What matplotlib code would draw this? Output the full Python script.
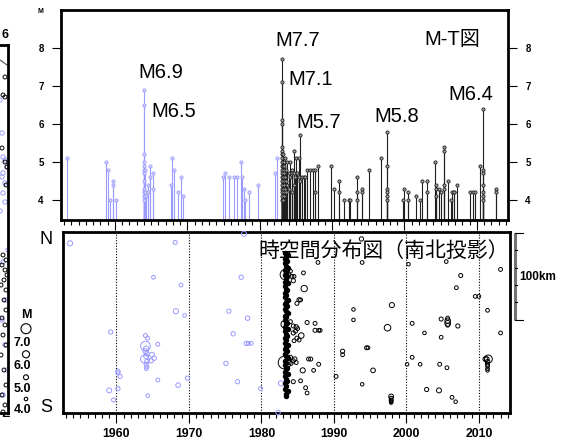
import matplotlib
matplotlib.use("Agg")
import matplotlib.pyplot as plt
import matplotlib.transforms as mtransforms
from matplotlib.ticker import MultipleLocator
import numpy as np

plt.rcParams['font.family'] = ['Liberation Sans', 'Noto Sans CJK JP']
plt.rcParams['font.weight'] = 'bold'

BLUE = '#9a9aff'

# M-T diagram: events before the 1983 main shock (blue) and after (black)
old_year = [1953.4, 1958.7, 1959.0, 1959.3, 1959.8, 1959.8, 1960.2,
            1964.0, 1964.0, 1964.0, 1964.0, 1964.0, 1964.0, 1964.0, 1964.0,
            1964.0, 1964.0, 1964.0, 1964.0, 1964.2, 1964.2, 1964.3, 1964.5,
            1964.6, 1964.9, 1964.9, 1965.3, 1965.3, 1967.7, 1967.9, 1968.2,
            1968.7, 1969.1, 1969.4, 1974.9, 1975.2, 1975.8, 1976.4, 1976.9,
            1977.4, 1977.6, 1977.8, 1978.0, 1978.5, 1979.7, 1982.1, 1982.4]
old_mag = [5.1, 5.0, 4.8, 4.0, 4.5, 4.4, 4.0,
           6.9, 6.5, 5.2, 5.0, 4.9, 4.8, 4.7, 4.5,
           4.3, 4.2, 4.1, 4.0, 4.8, 4.2, 4.1, 4.4,
           4.2, 4.9, 4.6, 4.7, 4.3, 4.4, 5.1, 4.8,
           4.2, 4.6, 4.1, 4.6, 4.7, 4.6, 4.6, 4.6,
           5.0, 4.6, 4.3, 4.0, 4.2, 4.4, 4.7, 5.1]

new_year = [1983.1] * 19 + [
    1983.2, 1983.2, 1983.2, 1983.2, 1983.2, 1983.3, 1983.3, 1983.3, 1983.3,
    1983.4, 1983.4, 1983.4, 1983.4, 1983.5, 1983.5, 1983.5, 1983.6, 1983.6,
    1983.6, 1983.8, 1983.8, 1984.0, 1984.0, 1984.2, 1984.2, 1984.4, 1984.4,
    1984.5, 1984.7, 1984.7, 1984.7, 1984.9, 1985.0, 1985.2, 1985.4, 1985.4,
    1985.6, 1985.6, 1985.9, 1986.1, 1986.3, 1986.5, 1986.9, 1987.3, 1987.6,
    1987.6, 1988.0, 1989.9, 1990.2, 1991.0, 1991.0, 1991.6, 1992.3, 1992.5,
    1993.5, 1993.5, 1993.5, 1994.1, 1994.1, 1995.1, 1996.8, 1997.6, 1997.6,
    1997.6, 1997.6, 1997.6, 1997.6, 1999.8, 2000.0, 2000.5, 2000.5, 2001.6,
    2002.2, 2002.4, 2003.1, 2003.1, 2004.2, 2004.4, 2004.4, 2004.4, 2004.7,
    2005.1, 2005.5, 2005.5, 2005.5, 2005.5, 2006.0, 2006.4, 2006.6, 2006.8,
    2006.9, 2007.2, 2009.1, 2009.4, 2009.7, 2010.4, 2010.9, 2010.9, 2010.9,
    2010.9, 2010.9, 2010.9, 2010.9, 2012.7, 2012.7]
new_mag = [7.7, 7.1, 6.1, 6.0, 5.4, 5.3, 5.2, 5.1, 5.0, 4.9, 4.8, 4.7, 4.6,
           4.5, 4.4, 4.3, 4.2, 4.1, 4.0] + [
    5.2, 4.9, 4.6, 4.3, 4.0, 5.0, 4.8, 4.5, 4.2,
    4.9, 4.7, 4.4, 4.1, 5.1, 4.6, 4.3, 4.8, 4.5,
    4.2, 5.0, 4.4, 4.7, 4.3, 5.0, 4.6, 4.7, 4.2,
    4.8, 5.3, 4.7, 4.4, 4.6, 5.1, 4.7, 5.1, 4.6,
    5.7, 4.5, 4.6, 4.6, 4.6, 4.8, 4.8, 4.8, 4.8,
    4.2, 4.9, 4.9, 4.3, 4.5, 4.2, 4.0, 4.0, 4.0,
    4.6, 4.2, 4.0, 4.3, 4.2, 4.8, 5.1, 5.8, 4.9,
    4.3, 4.2, 4.1, 4.0, 4.0, 4.3, 4.2, 4.0, 4.1,
    4.0, 4.5, 4.5, 4.2, 5.0, 4.4, 4.3, 4.1, 4.3,
    4.2, 5.4, 5.3, 4.4, 4.3, 4.5, 4.0, 4.2, 4.2,
    4.2, 4.4, 4.2, 4.2, 4.2, 4.9, 6.4, 4.8, 4.7,
    4.4, 4.2, 4.1, 4.0, 4.3, 4.2]

peak_text = ["M6.9", "M6.5", "M7.7", "M7.1", "M5.7", "M5.8", "M6.4"]
peak_year = [1963.2, 1965.0, 1982.2, 1983.9, 1985.1, 1995.9, 2006.0]
peak_mag = [7.21, 6.18, 8.05, 7.03, 5.89, 6.05, 6.63]

# space-time diagram (N-S projection), distance in km from the south edge
old_t = [1953.6, 1959.2, 1959.0, 1959.6, 1960.2, 1960.2, 1960.5, 1960.2,
         1964.0, 1964.3, 1964.0, 1964.1, 1964.0, 1964.2, 1964.1, 1963.9,
         1964.2, 1964.1, 1964.2, 1964.1, 1964.9, 1965.2, 1964.8, 1965.7,
         1965.1, 1965.7, 1964.3, 1968.1, 1968.9, 1968.2, 1969.4, 1968.5,
         1969.8, 1977.6, 1977.2, 1975.5, 1978.1, 1976.1, 1977.9, 1978.2,
         1978.6, 1975.1, 1976.7, 1979.9, 1982.7, 1982.3]
old_km = [195, 93, 26, 15, 48, 46, 42, 28,
          89, 86, 77, 74, 71, 68, 65, 62,
          59, 56, 53, 51, 67, 63, 60, 79,
          156, 38, 20, 196, 147, 117, 112, 32,
          40, 206, 156, 117, 109, 91, 80, 80,
          80, 57, 36, 28, 34, 0.5]
old_m = [5.1, 4.5, 5.0, 4.4, 4.6, 4.5, 4.4, 4.5,
         4.4, 4.3, 6.9, 5.2, 5.0, 4.8, 4.9, 6.5,
         4.7, 4.5, 4.3, 4.2, 4.9, 4.7, 4.6, 4.3,
         4.2, 4.3, 4.1, 4.4, 4.2, 5.1, 4.1, 4.8,
         4.6, 5.0, 4.6, 4.6, 4.7, 4.6, 4.6, 4.3,
         4.2, 4.6, 4.6, 4.4, 5.1, 4.7]

new_t = [1983.2, 1983.3, 1983.2, 1984.0, 1984.2, 1984.5, 1984.4, 1985.8,
         1985.9, 1984.9, 1985.2, 1985.4, 1984.0, 1984.4, 1984.8, 1985.0,
         1984.7, 1984.4, 1985.5, 1984.9, 1984.5, 1985.2, 1986.3, 1987.4,
         1987.4, 1987.9, 1988.1, 1984.0, 1984.4, 1984.8, 1984.6, 1984.1,
         1986.5, 1986.8, 1985.7, 1987.9, 1987.2, 1984.4, 1985.4, 1986.1,
         1986.3, 1987.8, 1990.3, 1991.2, 1991.2, 1992.7, 1992.7, 1993.8,
         1993.9, 1993.9, 1994.5, 1994.7, 1995.4, 1997.4, 1998.0, 1997.9,
         1997.9, 1997.9, 1997.9, 1997.9, 1997.9, 2000.3, 2000.8, 2000.8,
         2000.1, 2001.9, 2002.5, 2002.8, 2004.5, 2004.6, 2004.8, 2004.8,
         2005.5, 2005.7, 2005.7, 2005.7, 2005.7, 2005.6, 2007.1, 2006.9,
         2007.5, 2006.3, 2006.8, 2009.5, 2010.0, 2011.2, 2013.0, 2013.0,
         2011.3, 2010.9, 2011.1, 2011.2, 2011.2, 2011.2, 2011.2, 2011.2]
new_km = [58, 159, 102, 163, 157, 157, 152, 161,
          143, 126, 130, 130, 105, 100, 99, 97,
          94, 92, 89, 86, 83, 84, 104, 103,
          95, 95, 95, 64, 60, 58, 62, 57,
          62, 62, 49, 56, 49, 36, 37, 29,
          23, 173, 42, 71, 67, 119, 107, 200,
          173, 33, 75, 75, 49, 98, 124, 19,
          17, 15, 14, 13, 12, 171, 103, 64,
          56, 56, 92, 27, 26, 56, 87, 108,
          174, 109, 106, 103, 101, 52, 100, 144,
          158, 18, 13, 134, 134, 118, 165, 92,
          62, 62, 62, 59, 56, 54, 51, 49]
new_m = [7.7, 7.1, 6.1, 4.3, 4.4, 4.2, 4.5, 4.2,
         5.7, 4.4, 4.6, 4.3, 4.3, 4.4, 4.6, 4.2,
         4.3, 4.5, 5.3, 4.4, 4.2, 4.3, 4.4, 4.3,
         4.4, 4.2, 4.3, 4.5, 4.4, 4.3, 4.6, 4.2,
         4.3, 4.4, 5.1, 4.3, 4.2, 4.4, 4.2, 4.3,
         4.2, 4.2, 4.3, 4.5, 4.2, 4.0, 4.0, 4.6,
         4.2, 4.0, 4.3, 4.2, 4.8, 5.8, 5.1, 4.9,
         4.3, 4.2, 4.1, 4.0, 4.0, 4.0, 4.3, 4.2,
         4.0, 4.1, 4.0, 4.5, 5.0, 4.3, 4.2, 4.4,
         4.1, 4.3, 5.3, 5.4, 4.4, 4.2, 4.5, 4.2,
         4.4, 4.2, 4.0, 4.2, 4.2, 4.2, 4.3, 4.2,
         6.4, 4.9, 4.8, 4.7, 4.4, 4.2, 4.1, 4.0]

# 1983 aftershock column (all about M4)
col_t = [1983.25, 1983.6, 1983.4, 1983.3, 1983.55, 1983.25, 1983.45, 1983.6,
         1983.3, 1983.4, 1983.25, 1983.55, 1983.45, 1983.3, 1983.6, 1983.25,
         1983.4, 1983.55, 1983.3, 1983.45, 1983.25, 1983.6, 1983.4, 1983.3,
         1983.55, 1983.25, 1983.45, 1983.6, 1983.3, 1983.4, 1983.25, 1983.55,
         1983.45, 1983.3, 1983.6, 1983.25, 1983.4, 1983.55, 1983.3, 1983.45,
         1983.25, 1983.6, 1983.4, 1983.3, 1983.55, 1983.25, 1983.45, 1983.6,
         1983.3, 1983.4, 1983.25, 1983.55, 1983.45, 1983.3, 1983.6, 1983.25,
         1983.4, 1983.55, 1983.3, 1983.45, 1983.25, 1983.6, 1983.4, 1983.4]
col_km = [184, 182, 179, 177, 175, 172, 169, 167, 164, 161, 159, 157, 154,
          151, 149, 146, 143, 141, 138, 136, 133, 130, 128, 125, 123, 120,
          117, 115, 112, 110, 107, 104, 102, 99, 97, 94, 91, 89, 86, 84,
          81, 78, 76, 73, 71, 68, 65, 63, 60, 58, 55, 52, 50, 47, 45, 42,
          39, 37, 34, 31, 28, 25, 22, 19]

legend_mag = [7.0, 6.0, 5.0, 4.0]
legend_text = ["7.0", "6.0", "5.0", "4.0"]

# neighbouring map panel, cut off at the left edge
strip_blue_x = [92, 94, 95, 97, 99, 95, 94, 97, 95, 92, 97, 100, 95, 98, 94, 97, 99, 95]
strip_blue_y = [313, 280, 256, 253, 246, 240, 236, 230, 220, 202, 211, 163, 151, 113, 93, 68, 43, 18]
strip_black_x = [97, 95, 97, 94, 97, 99, 98, 95, 98, 94, 97, 99, 96, 93, 98, 96, 98, 94, 97, 95, 98, 93, 96, 98, 94, 97, 95]
strip_black_y = [336, 318, 316, 265, 251, 246, 228, 158, 153, 148, 143, 138, 133, 128, 123, 113, 103, 95, 88, 78, 68, 58, 43, 28, 18, 8, 1]


def msize(m):
    d_px = 3.5 * 1.42 ** (np.asarray(m, dtype=float) - 4.0)
    return (d_px * 0.72) ** 2


W, H = 570, 445
fig = plt.figure(figsize=(W / 100, H / 100), dpi=100)

# overlay for the magnitude legend
ov = fig.add_axes([0, 0, 1, 1])
ov.set_xlim(0, W)
ov.set_ylim(H, 0)
ov.axis('off')
ov.text(26, 315.5, "M", ha='center', va='center', fontsize=9)
ov.scatter([26] * 4, [328.7, 354.3, 377.3, 399], s=msize(legend_mag),
           facecolors='none', edgecolors='black', linewidths=0.8)
for lbl, yy in zip(legend_text, [343, 366, 389, 410]):
    ov.text(14, yy, lbl, ha='left', va='center', fontsize=9)
ov.text(8, 35.5, "6", ha='right', va='center', fontsize=9)
ov.text(9, 414, "E", ha='right', va='center', fontsize=9)

# left neighbour panel
st = fig.add_axes([-92 / W, 1 - 413 / H, 100 / W, 368 / H])
st.set_xlim(0, 100)
st.set_ylim(0, 368)
st.set_xticks([])
st.set_yticks([])
for sp in st.spines.values():
    sp.set_linewidth(2)
st.plot([92, 99], [353, 348], color='0.3', lw=0.8)
st.scatter(strip_blue_x, strip_blue_y, s=msize(4.6), facecolors='none',
           edgecolors=BLUE, linewidths=0.7)
st.scatter(strip_black_x, strip_black_y, s=msize(4.3), facecolors='none',
           edgecolors='black', linewidths=0.7)

# ---- M-T diagram ----
ax1 = fig.add_axes([61 / W, 1 - 220 / H, 447 / W, 210 / H])
xlim = (1952.55, 2014.3)
ylo = 3.474
ax1.set_xlim(*xlim)
ax1.set_ylim(ylo, 9.0)
ax1.vlines(old_year, ylo, old_mag, color=BLUE, lw=0.8)
ax1.plot(old_year, old_mag, 'o', ls='none', ms=2.3, mfc='#d4d4ff', mec=BLUE, mew=0.6)
ax1.vlines(new_year, ylo, new_mag, color='#202020', lw=0.8)
ax1.plot(new_year, new_mag, 'o', ls='none', ms=2.3, mfc='#a0a0a0', mec='#202020', mew=0.6)
for t, x, y in zip(peak_text, peak_year, peak_mag):
    ax1.text(x, y, t, ha='left', va='baseline', fontsize=14.5, fontweight='normal')
ax1.text(2002.7, 8.08, "M-T図", ha='left', va='baseline', fontsize=14.5, fontweight='normal')
ax1.set_yticks([4, 5, 6, 7, 8])
ax1.set_xticks(range(1960, 2011, 10))
ax1.xaxis.set_minor_locator(MultipleLocator(1))
ax1.tick_params(axis='y', left=True, right=True, labelleft=True, labelright=True,
                direction='out', length=6.5, width=0.8, labelsize=7, pad=6)
ax1.tick_params(axis='x', which='major', direction='out', length=7, width=0.8, labelbottom=False)
ax1.tick_params(axis='x', which='minor', direction='out', length=3.6, width=0.8)
for sp in ax1.spines.values():
    sp.set_linewidth(2)
ax1.text(-0.045, 0.995, "M", transform=ax1.transAxes, ha='center', va='center', fontsize=5)

# ---- space-time diagram ----
ax2 = fig.add_axes([62.5 / W, 1 - 413 / H, 447.5 / W, 181 / H])
ax2.set_xlim(*xlim)
ax2.set_ylim(0, 208)
for yr in range(1960, 2011, 10):
    ax2.axvline(yr, color='black', ls=(0, (1, 1.5)), lw=0.8, zorder=0.5)
ax2.scatter(old_t, old_km, s=msize(old_m), facecolors='none', edgecolors=BLUE,
            linewidths=0.7, clip_on=False, zorder=3)
ax2.scatter(col_t, col_km, s=msize(4.5), facecolors='black', edgecolors='black',
            linewidths=0.9, zorder=3)
ax2.scatter(new_t, new_km, s=msize(new_m), facecolors='none', edgecolors='black',
            linewidths=0.7, clip_on=False, zorder=3)
ax2.text(0.437, 0.895, "時空間分布図（南北投影）", transform=ax2.transAxes,
         ha='left', va='center', fontsize=15, fontweight='normal', zorder=2)
ax2.text(-0.022, 0.956, "N", transform=ax2.transAxes, ha='right', va='center',
         fontsize=13, fontweight='normal')
ax2.text(-0.022, 0.03, "S", transform=ax2.transAxes, ha='right', va='center',
         fontsize=13, fontweight='normal')
ax2.set_yticks([])
ax2.set_xticks(range(1960, 2011, 10))
ax2.xaxis.set_minor_locator(MultipleLocator(1))
ax2.tick_params(axis='x', which='major', direction='out', length=7, width=0.8,
                labelsize=8.8, pad=4)
ax2.tick_params(axis='x', which='minor', direction='out', length=3.6, width=0.8)
for sp in ax2.spines.values():
    sp.set_linewidth(2)

# 100 km scale bar
bt = mtransforms.blended_transform_factory(ax2.transAxes, ax2.transData)
scale_top, scale_len, scale_step = 207, 100, 20
ax2.plot([1.011, 1.011], [scale_top - scale_len, scale_top], transform=bt,
         color='0.45', lw=2.2, clip_on=False, solid_capstyle='butt')
for k in range(scale_top - scale_len, scale_top + 1, scale_step):
    end = 1.029 if k in (scale_top, scale_top - scale_len) else 1.016
    ax2.plot([1.011, end], [k, k], transform=bt, color='black', lw=0.8, clip_on=False)
ax2.text(1.020, 156, "100km", transform=bt, ha='left', va='center', fontsize=8.5)

fig.savefig("out.png", dpi=100)
